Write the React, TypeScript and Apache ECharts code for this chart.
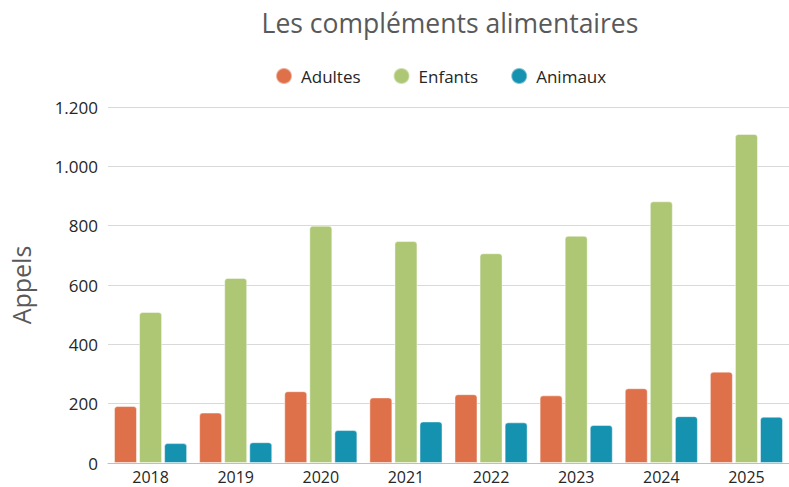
import React, { useEffect, useRef } from "react";
import * as echarts from "echarts";

const categories = ["2018", "2019", "2020", "2021", "2022", "2023", "2024", "2025"];
const adultes = [192, 170, 242, 221, 232, 228, 252, 308];
const enfants = [509, 624, 800, 748, 707, 766, 882, 1109];
const animaux = [67, 70, 111, 140, 137, 128, 158, 156];
const seriesNames = ["Adultes", "Enfants", "Animaux"];
const colors = ["#DF714A", "#ADC775", "#1592B0"];
const titleText = "Les compléments alimentaires";
const yName = "Appels";

const FONT = "'Open Sans', 'Noto Sans', sans-serif";

function fmt(v: number): string {
  return String(v).replace(/\B(?=(\d{3})+(?!\d))/g, ".");
}

export default function App() {
  const ref = useRef<HTMLDivElement>(null);
  useEffect(() => {
    if (!ref.current) return;
    const chart = echarts.init(ref.current, undefined, { renderer: "svg" });
    const data = [adultes, enfants, animaux];
    chart.setOption({
      animation: false,
      textStyle: { fontFamily: FONT },
      graphic: [
        {
          type: "text",
          x: 450,
          y: 23,
          style: {
            text: titleText,
            fontSize: 26.5,
            fontFamily: FONT,
            fill: "#595959",
            textAlign: "center",
            textVerticalAlign: "middle",
          },
        },
      ],
      legend: {
        data: seriesNames,
        left: 270,
        top: 62,
        icon: "circle",
        itemWidth: 16,
        itemHeight: 16,
        itemGap: 32,
        textStyle: { fontSize: 17, color: "#262626", fontFamily: FONT, padding: [0, 0, 0, 4] },
      },
      grid: { left: 103, width: 693, top: 107, height: 356, containLabel: false },
      xAxis: {
        type: "category",
        data: categories,
        axisTick: { show: false },
        axisLine: { lineStyle: { color: "#bfbfbf", width: 1 } },
        axisLabel: { fontSize: 16, lineHeight: 14, color: "#262626", margin: 7, fontFamily: FONT },
      },
      yAxis: {
        type: "value",
        min: 0,
        max: 1200,
        interval: 200,
        name: yName,
        nameLocation: "middle",
        nameGap: 75,
        nameTextStyle: { fontSize: 25, color: "#595959", fontFamily: FONT },
        axisLine: { show: false },
        axisTick: { show: false },
        axisLabel: { fontSize: 17, color: "#262626", margin: 10, formatter: (v: number) => fmt(v), fontFamily: FONT },
        splitLine: { lineStyle: { color: "#d9d9d9", width: 1 } },
      },
      series: seriesNames.map((n, i) => ({
        name: n,
        type: "bar",
        data: data[i],
        barWidth: 23,
        barGap: "9%",
        itemStyle: {
          color: colors[i],
          borderRadius: [3, 3, 0, 0],
          borderColor: "rgba(255,255,255,0.45)",
          borderWidth: 1,
        },
      })),
    });
    return () => chart.dispose();
  }, []);
  return (
    <div
      ref={ref}
      style={{ position: "fixed", left: 0, top: 0, width: 789, height: 487, background: "#fff" }}
    />
  );
}
